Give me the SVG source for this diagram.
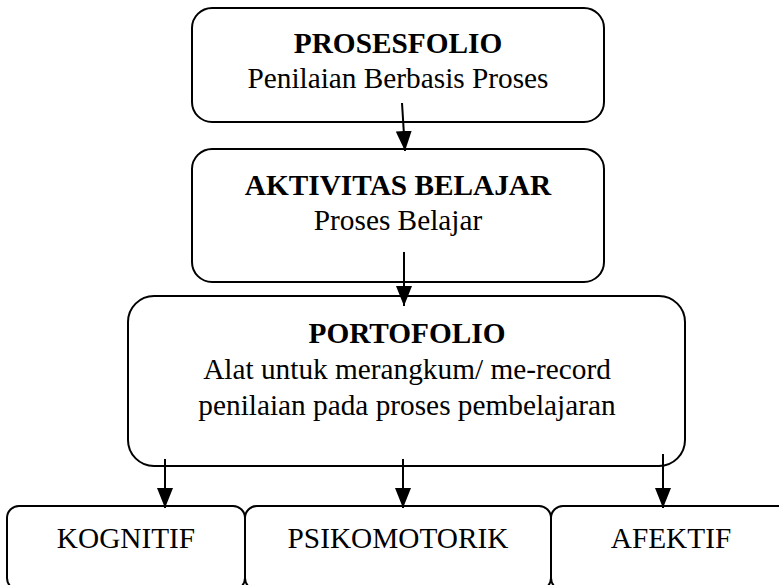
<svg xmlns="http://www.w3.org/2000/svg" width="779" height="585" viewBox="0 0 779 585">
<style>
.box{fill:#fff;stroke:#000;stroke-width:2}
.t{font-family:"Liberation Serif","Times New Roman",serif;font-size:29.3px;fill:#000;text-anchor:middle}
.b{font-weight:bold}
.c{stroke:#000;stroke-width:2;fill:none}
</style>
<defs>
<marker id="ah" markerUnits="userSpaceOnUse" markerWidth="20" markerHeight="16" refX="20" refY="8" orient="auto">
<path d="M0,0 L20,8 L0,16 z" fill="#000"/>
</marker>
</defs>
<g id="prosesfolio">
<rect class="box" x="192" y="8" width="412" height="114" rx="20" ry="20"/>
<text class="t b" x="398" y="53">PROSESFOLIO</text>
<text class="t" x="398" y="88">Penilaian Berbasis Proses</text>
</g>
<g id="aktivitas">
<rect class="box" x="192" y="149" width="412" height="133" rx="20" ry="20"/>
<text class="t b" x="398" y="195">AKTIVITAS BELAJAR</text>
<text class="t" x="398" y="230">Proses Belajar</text>
</g>
<g id="portofolio">
<rect class="box" x="128" y="296" width="557" height="170" rx="26" ry="26"/>
<text class="t b" x="407" y="343">PORTOFOLIO</text>
<text class="t" x="407" y="379">Alat untuk merangkum/ me-record</text>
<text class="t" x="407" y="415">penilaian pada proses pembelajaran</text>
</g>
<g id="kognitif">
<rect class="box" x="7" y="506" width="238" height="84" rx="12" ry="12"/>
<text class="t" x="126" y="548">KOGNITIF</text>
</g>
<g id="psikomotorik">
<rect class="box" x="245" y="506" width="306" height="84" rx="12" ry="12"/>
<text class="t" x="398" y="548">PSIKOMOTORIK</text>
</g>
<g id="afektif">
<rect class="box" x="551" y="506" width="240" height="84" rx="12" ry="12"/>
<text class="t" x="671" y="548">AFEKTIF</text>
</g>
<g id="connectors">
<line class="c" x1="402" y1="103" x2="405" y2="151" marker-end="url(#ah)"/>
<line class="c" x1="404" y1="252" x2="404" y2="306" marker-end="url(#ah)"/>
<line class="c" x1="165" y1="459" x2="165" y2="508" marker-end="url(#ah)"/>
<line class="c" x1="403" y1="459" x2="403" y2="508" marker-end="url(#ah)"/>
<line class="c" x1="663" y1="454" x2="663" y2="508" marker-end="url(#ah)"/>
</g>
</svg>
